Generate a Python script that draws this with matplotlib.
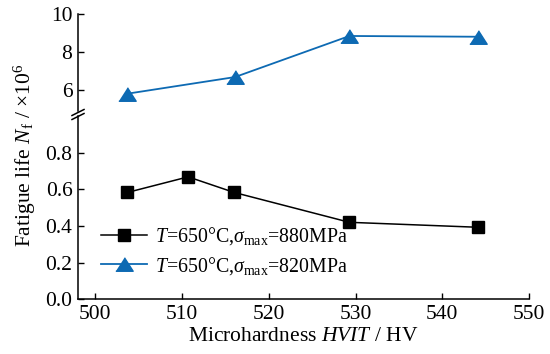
import numpy as np
import matplotlib
matplotlib.use('Agg')
import matplotlib.pyplot as plt
from matplotlib.lines import Line2D

# data
hv_880 = [503.7, 510.7, 516.0, 529.3, 544.1]
life_880 = [0.583, 0.668, 0.583, 0.420, 0.393]   # x10^6 cycles
hv_820 = [503.7, 516.1, 529.3, 544.1]
life_820 = [5.83, 6.70, 8.85, 8.81]              # x10^6 cycles

x_ticks = [500, 510, 520, 530, 540, 550]
top_ticks = [6, 8, 10]
bottom_ticks = [0.0, 0.2, 0.4, 0.6, 0.8]

label_880 = r'$T$=650°C,$\sigma_{\rm max}$=880MPa'
label_820 = r'$T$=650°C,$\sigma_{\rm max}$=820MPa'

plt.rcParams['font.family'] = ['Liberation Serif', 'DejaVu Serif']
plt.rcParams['mathtext.fontset'] = 'custom'
plt.rcParams['mathtext.rm'] = 'Liberation Serif'
plt.rcParams['mathtext.it'] = 'Liberation Serif:italic'
plt.rcParams['font.size'] = 15.5

blue = '#0d6ab3'
tri = [(-1, -0.78), (1, -0.78), (0, 0.78)]

fig = plt.figure(figsize=(5.5, 3.54), dpi=100)
W, H = 550, 354


def px_axes(x0, x1, ytop, ybot):
    return fig.add_axes([x0 / W, 1 - ybot / H, (x1 - x0) / W, (ybot - ytop) / H])


ax_top = px_axes(78, 529, 14, 110.5)
ax_bot = px_axes(78, 529, 116, 299.3)

for ax in (ax_top, ax_bot):
    ax.set_xlim(498, 550)
    ax.spines['top'].set_visible(False)
    ax.spines['right'].set_visible(False)
    ax.tick_params(direction='in', length=4, width=1, labelsize=15.5, pad=4)
    ax.spines['left'].set_linewidth(1.1)
    ax.spines['bottom'].set_linewidth(1.1)
    ax.patch.set_alpha(0)

ax_top.spines['bottom'].set_visible(False)
ax_top.tick_params(axis='x', bottom=False, labelbottom=False)
ax_top.set_ylim(4.95, 10)
ax_top.set_yticks(top_ticks)
ax_top.set_yticklabels([str(t) for t in top_ticks])

ax_bot.set_ylim(0, 1.0)
ax_bot.set_yticks(bottom_ticks)
ax_bot.set_yticklabels([f'{t:.1f}' for t in bottom_ticks])
ax_bot.set_xticks(x_ticks)

ax_bot.plot(hv_880, life_880, color='black', lw=1.1, marker='s', ms=8.5,
            clip_on=False)
ax_top.plot(hv_820, life_820, color=blue, lw=1.3, marker=tri, ms=12.5,
            clip_on=False)

handles = [
    Line2D([], [], color='black', lw=1.1, marker='s', ms=8.5),
    Line2D([], [], color=blue, lw=1.3, marker=tri, ms=12.5),
]
ax_bot.legend(handles, [label_880, label_820], loc='upper left',
              bbox_to_anchor=(101 / W, 1 - 225 / H), bbox_transform=fig.transFigure,
              frameon=False, handlelength=2.3, handletextpad=0.4,
              labelspacing=0.4, fontsize=14.3, borderaxespad=0, borderpad=0)

ax_bot.set_xlabel(r'Microhardness $HVIT$ / HV', fontsize=15.5, labelpad=2)
fig.text(25 / W, 1 - 155 / H, r'Fatigue life $N_{\rm f}$ / ×10$^6$',
         rotation=90, ha='center', va='center', fontsize=15.5)

# break marks on the y spine
for yb in (112.5, 116.5):
    fig.add_artist(Line2D([72 / W, 84 / W], [1 - (yb + 3) / H, 1 - (yb - 3) / H],
                          color='black', lw=1.1))

fig.savefig('out.png', dpi=100)
